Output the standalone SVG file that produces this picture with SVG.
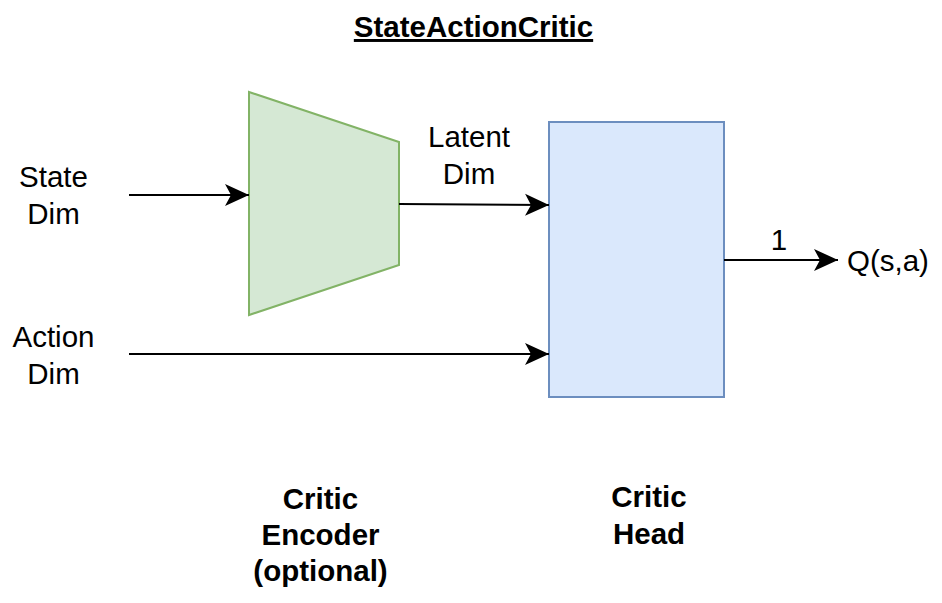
<svg xmlns="http://www.w3.org/2000/svg" width="942" height="603" viewBox="0 0 942 603">
<style>
text{font-family:"Liberation Sans",Arial,sans-serif;font-size:29.5px;fill:#000}
.c{text-anchor:middle}
.b{font-weight:bold}
.e{stroke:#000;stroke-width:2.2;fill:none}
</style>
<defs>
<marker id="ah" markerUnits="userSpaceOnUse" markerWidth="26" markerHeight="26" viewBox="0 0 26 26" refX="24" refY="13" orient="auto">
<path d="M0,2 L24,13 L0,24 L6,13 Z" fill="#000"/>
</marker>
</defs>
<rect width="942" height="603" fill="#fff"/>
<text class="c b" x="473.5" y="37" text-decoration="underline">StateActionCritic</text>
<g id="encoder">
<polygon points="249,92 399,142 399,265 249,315" fill="#d5e8d4" stroke="#82b366" stroke-width="2"/>
</g>
<g id="head">
<rect x="549" y="122" width="175" height="275" fill="#dae8fc" stroke="#6c8ebf" stroke-width="2"/>
</g>
<g id="connectors">
<line class="e" x1="129" y1="195" x2="249" y2="195" marker-end="url(#ah)"/>
<line class="e" x1="399" y1="204" x2="549" y2="205" marker-end="url(#ah)"/>
<line class="e" x1="129" y1="354" x2="549" y2="354" marker-end="url(#ah)"/>
<line class="e" x1="724" y1="260" x2="838" y2="260" marker-end="url(#ah)"/>
</g>
<g id="labels">
<text class="c" x="53.5" y="187">State</text>
<text class="c" x="53.5" y="224">Dim</text>
<text class="c" x="53.5" y="347">Action</text>
<text class="c" x="53.5" y="384">Dim</text>
<text class="c" x="469" y="147">Latent</text>
<text class="c" x="469" y="184">Dim</text>
<text class="c" x="779" y="250">1</text>
<text x="847" y="271">Q(s,a)</text>
<text class="c b" x="320.5" y="509">Critic</text>
<text class="c b" x="320.5" y="545">Encoder</text>
<text class="c b" x="320.5" y="581">(optional)</text>
<text class="c b" x="649" y="507">Critic</text>
<text class="c b" x="649" y="544">Head</text>
</g>
</svg>
